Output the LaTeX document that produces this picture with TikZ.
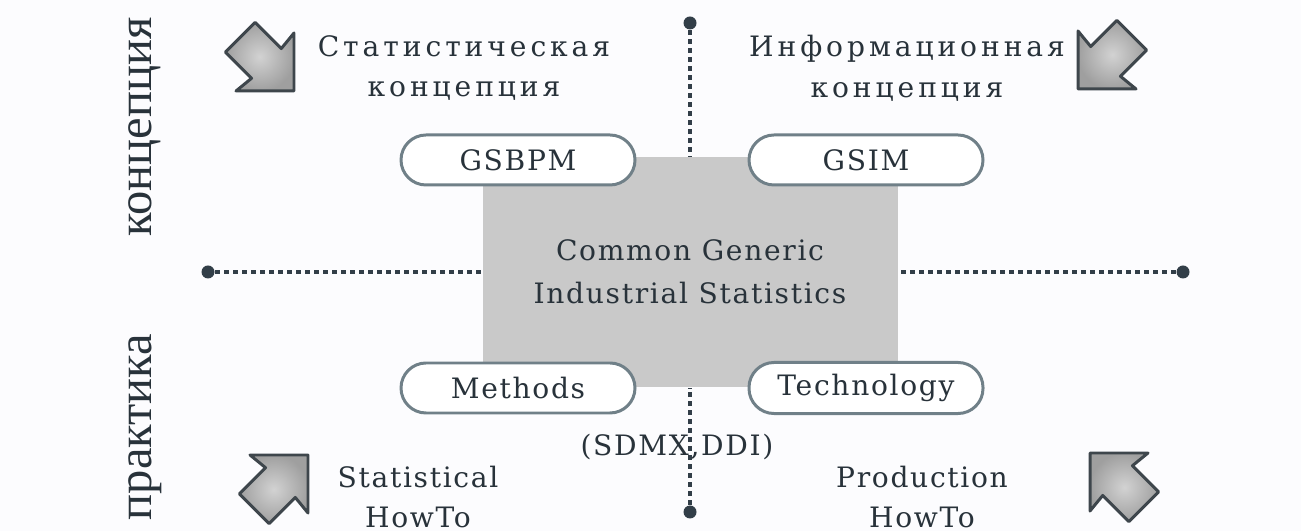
\documentclass[tikz,border=0pt]{standalone}
\usepackage{fontspec}
\setmainfont[LetterSpace=6]{DejaVu Serif}
\newfontfamily\rufont[LetterSpace=14]{DejaVu Serif}
\newfontfamily\sidefont{Liberation Serif}
\definecolor{csink}{RGB}{40,50,58}
\definecolor{csgray}{RGB}{201,201,201}
\definecolor{csedge}{RGB}{112,128,136}
\definecolor{csdot}{RGB}{50,62,72}
\definecolor{csarrow}{RGB}{62,70,76}
\definecolor{csbg}{RGB}{252,252,254}
\tikzset{fatarrow/.pic={
  \shade[inner color=gray!35,outer color=gray!75,draw=csarrow,line width=0.85pt,line join=round]
    (0,0)--(-41,41)--(-39,21)--(-76,21)--(-76,-21)--(-39,-21)--(-41,-41)--cycle;}}

\begin{document}
\begin{tikzpicture}[x=0.1mm,y=0.1mm,
    txt/.style={text=csink,align=center,font=\fontsize{8}{12}\selectfont},
    rutxt/.style={text=csink,align=center,font=\rufont\fontsize{8}{11.6}\selectfont},
    sidetxt/.style={text=csink,rotate=90,font=\sidefont\fontsize{13.8}{16}\selectfont},
    pill/.style={txt,draw=csedge,line width=0.85pt,fill=white,rounded corners=2.5mm,
      minimum width=23.4mm,minimum height=5mm},
    enddot/.style={circle,fill=csdot,inner sep=0pt,minimum size=1.3mm},
    dotline/.style={csdot,line width=0.45mm,dash pattern=on 0.5mm off 0.4mm}]
  \fill[csbg] (0,0) rectangle (1301,531);
  \useasboundingbox (0,0) rectangle (1301,531);

  \node[fill=csgray,minimum width=41.5mm,minimum height=23mm,txt,font=\fontsize{8}{12.2}\selectfont]
    (core) at (690,259) {Common Generic\\Industrial Statistics};

  \node[enddot] (dn) at (690,508) {};
  \node[enddot] (ds) at (690,19) {};
  \node[enddot] (dw) at (208,259) {};
  \node[enddot] (de) at (1183,259) {};
  \foreach \d in {dn,ds,dw,de}{\draw[dotline] (\d) -- (core);}

  \node[pill] (gsbpm) at (518,371) {GSBPM};
  \node[pill] (gsim) at (866,371) {GSIM};
  \node[pill] (meth) at (518,143) {Methods};
  \node[pill] (tech) at (866,143) {Technology};

  \node[txt] (sdmx) at (677,84) {(SDMX,DDI)};

  \node[rutxt] (statconc) at (464,463) {Статистическая\\концепция};
  \node[rutxt] (infconc) at (907,463) {Информационная\\концепция};
  \node[txt,font=\fontsize{8}{11.6}\selectfont] (stathow) at (418,34) {Statistical\\HowTo};
  \node[txt,font=\fontsize{8}{11.6}\selectfont] (prodhow) at (922,34) {Production\\HowTo};

  \node[sidetxt] (sideup) at (145,404) {концепция};
  \node[sidetxt] (sidedown) at (145,104) {практика};

  \pic[rotate=-45] at (294,440) {fatarrow};
  \pic[rotate=-135] at (1078,442) {fatarrow};
  \pic[rotate=45] at (308,76) {fatarrow};
  \pic[rotate=135] at (1090,78) {fatarrow};
\end{tikzpicture}
\end{document}
